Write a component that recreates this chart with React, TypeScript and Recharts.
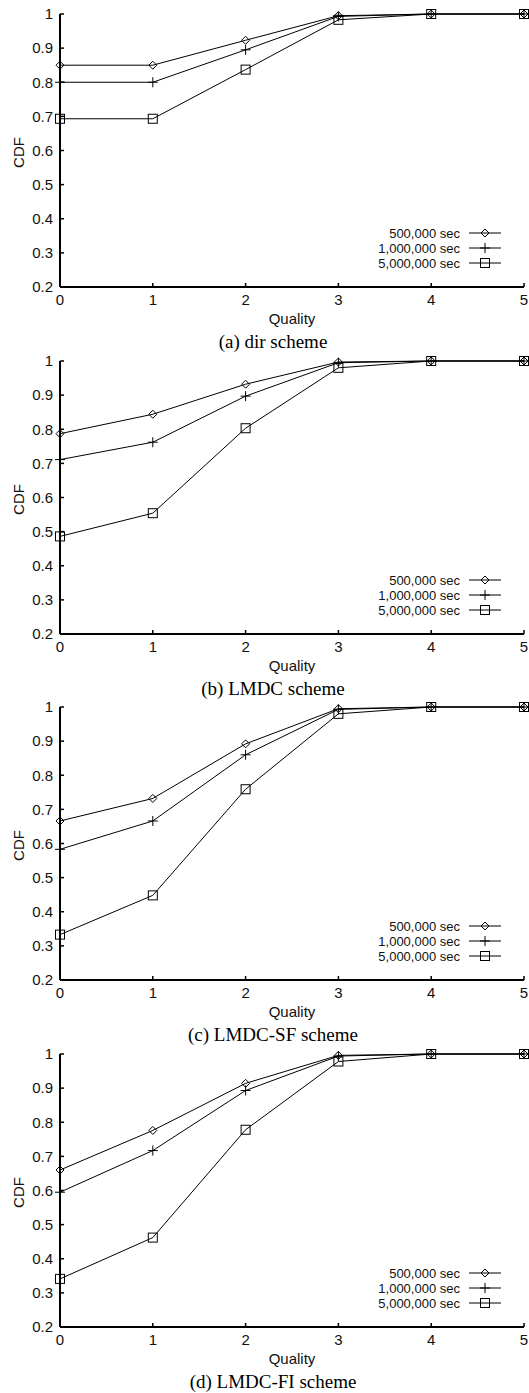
import React from "react";
import { LineChart, Line, XAxis, YAxis, Legend } from "recharts";

const QUALITY = [0, 1, 2, 3, 4, 5];
const CDF_TICKS = [0.2, 0.3, 0.4, 0.5, 0.6, 0.7, 0.8, 0.9, 1];

const SERIES = [
  { key: "s500k", name: "500,000 sec", shape: "diamond" },
  { key: "s1m", name: "1,000,000 sec", shape: "plus" },
  { key: "s5m", name: "5,000,000 sec", shape: "square" },
];

// (a) dir scheme
const DIR_500K = [0.85, 0.85, 0.923, 0.995, 1, 1];
const DIR_1M = [0.8, 0.8, 0.895, 0.993, 1, 1];
const DIR_5M = [0.693, 0.693, 0.837, 0.983, 1, 1];

// (b) LMDC scheme
const LMDC_500K = [0.787, 0.844, 0.932, 0.997, 1, 1];
const LMDC_1M = [0.711, 0.762, 0.897, 0.995, 1, 1];
const LMDC_5M = [0.486, 0.554, 0.803, 0.98, 1, 1];

// (c) LMDC-SF scheme
const SF_500K = [0.666, 0.732, 0.892, 0.995, 1, 1];
const SF_1M = [0.583, 0.666, 0.86, 0.993, 1, 1];
const SF_5M = [0.333, 0.448, 0.759, 0.98, 1, 1];

// (d) LMDC-FI scheme
const FI_500K = [0.66, 0.776, 0.914, 0.996, 1, 1];
const FI_1M = [0.595, 0.717, 0.893, 0.994, 1, 1];
const FI_5M = [0.341, 0.462, 0.778, 0.978, 1, 1];

const PANELS = [
  { caption: "(a) dir scheme", values: [DIR_500K, DIR_1M, DIR_5M] },
  { caption: "(b) LMDC scheme", values: [LMDC_500K, LMDC_1M, LMDC_5M] },
  { caption: "(c) LMDC-SF scheme", values: [SF_500K, SF_1M, SF_5M] },
  { caption: "(d) LMDC-FI scheme", values: [FI_500K, FI_1M, FI_5M] },
];

const SANS = "'Liberation Sans', Arial, sans-serif";
const INK = "#111";
const TICK_FONT = { fontSize: 15, fill: INK, fontFamily: SANS };

function Marker({ shape, cx, cy }: { shape: string; cx: number; cy: number }) {
  if (shape === "diamond") {
    const r = 4;
    return (
      <polygon
        points={`${cx},${cy - r} ${cx + r},${cy} ${cx},${cy + r} ${cx - r},${cy}`}
        fill="none"
        stroke="#000"
        strokeWidth={1}
      />
    );
  }
  if (shape === "plus") {
    const r = 5;
    return (
      <g stroke="#000" strokeWidth={1}>
        <line x1={cx - r} y1={cy} x2={cx + r} y2={cy} />
        <line x1={cx} y1={cy - r} x2={cx} y2={cy + r} />
      </g>
    );
  }
  const r = 4.5;
  return <rect x={cx - r} y={cy - r} width={2 * r} height={2 * r} fill="none" stroke="#000" strokeWidth={1} />;
}

// gnuplot-style key: right-aligned text, then a sample line with the marker
function LegendBox() {
  return (
    <svg width={170} height={44} style={{ overflow: "visible" }}>
      {SERIES.map((s, i) => {
        const y = 7 + i * 15;
        return (
          <g key={s.key}>
            <text x={120} y={y} dy={4.5} textAnchor="end" fontSize={13} fontFamily={SANS} fill={INK}>
              {s.name}
            </text>
            <line x1={129} y1={y} x2={161} y2={y} stroke="#000" strokeWidth={1} />
            <Marker shape={s.shape} cx={145} cy={y} />
          </g>
        );
      })}
    </svg>
  );
}

function CdfLabel(props: any) {
  const vb = props.viewBox;
  const x = 24;
  const y = vb.y + vb.height / 2 + 2;
  return (
    <text
      x={x}
      y={y}
      transform={`rotate(-90, ${x}, ${y})`}
      textAnchor="middle"
      fontSize={15}
      fontFamily={SANS}
      fill={INK}
    >
      CDF
    </text>
  );
}

function Panel({ top, caption, values }: { top: number; caption: string; values: number[][] }) {
  const data = QUALITY.map((q, i) => ({
    q,
    s500k: values[0][i],
    s1m: values[1][i],
    s5m: values[2][i],
  }));

  return (
    <div style={{ position: "absolute", left: 0, top, width: 529, height: 347 }}>
      <LineChart width={529} height={330} data={data} margin={{ top: 14, right: 5, bottom: 3, left: 0 }}>
        <XAxis
          xAxisId="b"
          dataKey="q"
          type="number"
          domain={[0, 5]}
          ticks={QUALITY}
          interval={0}
          height={40}
          tick={TICK_FONT}
          tickSize={-4}
          tickMargin={11}
          tickLine={{ stroke: "#000", strokeWidth: 1.5 }}
          axisLine={{ stroke: "#000", strokeWidth: 2 }}
          label={{
            value: "Quality",
            position: "insideBottom",
            offset: 3,
            style: { fontSize: 15, fill: INK, fontFamily: SANS },
          }}
        />
        <XAxis
          xAxisId="t"
          orientation="top"
          dataKey="q"
          type="number"
          domain={[0, 5]}
          ticks={QUALITY}
          interval={0}
          height={0}
          tick={false}
          tickSize={-4}
          tickLine={{ stroke: "#000", strokeWidth: 1.5 }}
          axisLine={{ stroke: "#000", strokeWidth: 2 }}
        />
        <YAxis
          yAxisId="l"
          type="number"
          domain={[0.2, 1]}
          ticks={CDF_TICKS}
          interval={0}
          width={60}
          tick={TICK_FONT}
          tickFormatter={(v: number) => (v === 1 ? "1" : v.toFixed(1))}
          tickSize={-4}
          tickMargin={11}
          tickLine={{ stroke: "#000", strokeWidth: 1.5 }}
          axisLine={{ stroke: "#000", strokeWidth: 2 }}
          label={{ content: CdfLabel }}
        />
        <YAxis
          yAxisId="r"
          orientation="right"
          type="number"
          domain={[0.2, 1]}
          ticks={CDF_TICKS}
          interval={0}
          width={0}
          tick={false}
          tickSize={-4}
          tickLine={{ stroke: "#000", strokeWidth: 1.5 }}
          axisLine={{ stroke: "#000", strokeWidth: 2 }}
        />
        <Legend
          layout="horizontal"
          verticalAlign="middle"
          align="center"
          wrapperStyle={{ position: "absolute", left: 340, top: 226, width: 170, height: 44 }}
          content={() => <LegendBox />}
        />
        {SERIES.map((s) => (
          <Line
            key={s.key}
            xAxisId="b"
            yAxisId="l"
            type="linear"
            dataKey={s.key}
            name={s.name}
            stroke="#000"
            strokeWidth={1}
            isAnimationActive={false}
            dot={(p: any) => (
              <g key={`${s.key}-${p.index}`}>
                <Marker shape={s.shape} cx={p.cx} cy={p.cy} />
              </g>
            )}
            activeDot={false}
          />
        ))}
      </LineChart>
      <div
        style={{
          position: "absolute",
          left: 173,
          width: 200,
          top: 331,
          textAlign: "center",
          fontFamily: "'Liberation Serif', 'Times New Roman', serif",
          fontSize: 19,
          lineHeight: "22px",
          color: "#000",
          whiteSpace: "nowrap",
        }}
      >
        {caption}
      </div>
    </div>
  );
}

const PANEL_TOPS = [0, 347, 693, 1040];

export default function App() {
  return (
    <div style={{ position: "absolute", left: 0, top: 0, width: 529, height: 1393, background: "#fff" }}>
      {PANELS.map((p, i) => (
        <Panel key={p.caption} top={PANEL_TOPS[i]} caption={p.caption} values={p.values} />
      ))}
    </div>
  );
}
